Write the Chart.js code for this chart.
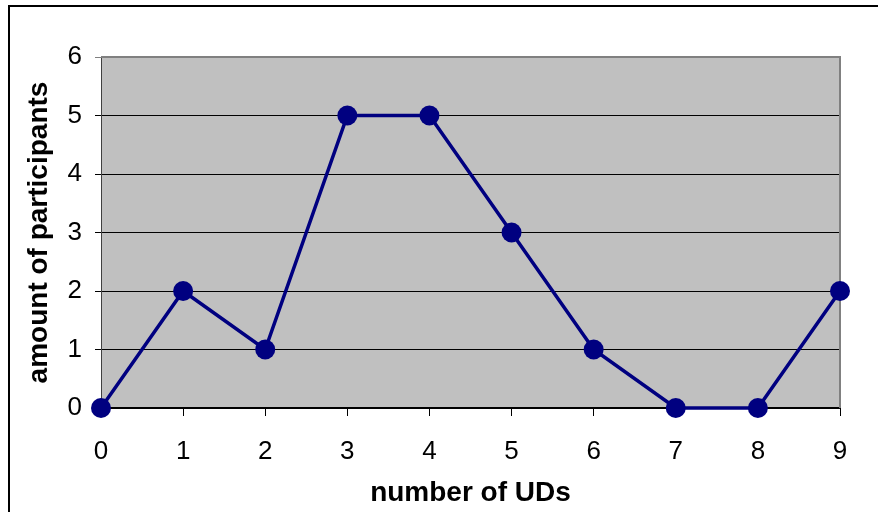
<!DOCTYPE html>
<html>
<head>
<meta charset="utf-8">
<script src="https://cdn.jsdelivr.net/npm/chart.js@4/dist/chart.umd.min.js"></script>
<style>
  html, body { margin: 0; padding: 0; background: #fff; }
  #wrap { width: 878px; height: 512px; position: relative; }
</style>
</head>
<body>
<div id="wrap"><canvas id="chart" width="878" height="512"></canvas></div>
<script>
// dados
const udCounts = ['0', '1', '2', '3', '4', '5', '6', '7', '8', '9'];
const participants = [0, 2, 1, 5, 5, 3, 1, 0, 0, 2];
const yTicks = [0, 1, 2, 3, 4, 5, 6];

const font = 'Liberation Sans, Arial, sans-serif';

// fundo cinza da área do gráfico + moldura externa
const plotBackground = {
    id: 'plotBackground',
    beforeDraw(chart) {
        const { ctx, chartArea: a } = chart;
        ctx.save();
        ctx.fillStyle = '#c0c0c0';
        ctx.fillRect(a.left, a.top, a.right - a.left, a.bottom - a.top);
        // moldura da figura (esquerda e topo)
        ctx.strokeStyle = '#000';
        ctx.lineWidth = 2;
        ctx.beginPath();
        ctx.moveTo(9, 512);
        ctx.lineTo(9, 6);
        ctx.lineTo(878, 6);
        ctx.stroke();
        ctx.restore();
    },
    beforeDatasetsDraw(chart) {
        const { ctx, chartArea: a } = chart;
        ctx.save();
        ctx.strokeStyle = '#808080';
        ctx.lineWidth = 2;
        ctx.beginPath();
        ctx.moveTo(a.left, a.top);
        ctx.lineTo(a.right, a.top);
        ctx.lineTo(a.right, a.bottom);
        ctx.stroke();
        ctx.restore();
    }
};

new Chart(document.getElementById('chart'), {
    type: 'line',
    data: {
        labels: udCounts,
        datasets: [{
            data: participants,
            borderColor: '#000080',
            backgroundColor: '#000080',
            borderWidth: 3.5,
            pointRadius: 10,
            pointHoverRadius: 10,
            pointBorderWidth: 0,
            tension: 0,
            clip: false
        }]
    },
    options: {
        responsive: false,
        animation: false,
        events: [],
        layout: { padding: { left: 0, top: 57, right: 38, bottom: 0 } },
        plugins: {
            legend: { display: false },
            tooltip: { enabled: false }
        },
        scales: {
            x: {
                offset: false,
                afterFit: (scale) => { scale.height = 104; },
                grid: {
                    drawOnChartArea: false,
                    drawTicks: true,
                    tickLength: 8,
                    color: '#000'
                },
                border: { color: '#000', width: 2 },
                ticks: {
                    color: '#000',
                    padding: 20,
                    maxRotation: 0,
                    font: { family: font, size: 26 }
                },
                title: {
                    display: true,
                    text: 'number of UDs',
                    color: '#000',
                    padding: { top: 2, bottom: 2 },
                    font: { family: font, size: 28, weight: 'bold' }
                }
            },
            y: {
                min: 0,
                max: 6,
                afterFit: (scale) => { scale.width = 101; },
                afterBuildTicks: (scale) => { scale.ticks = yTicks.map(v => ({ value: v })); },
                grid: {
                    color: (c) => c.tick && c.tick.value === 6 ? '#808080' : '#000',
                    lineWidth: 1,
                    tickLength: 6
                },
                border: { color: '#404040', width: 1 },
                ticks: {
                    color: '#000',
                    padding: 13,
                    font: { family: font, size: 26 }
                },
                title: {
                    display: true,
                    text: 'amount of participants',
                    color: '#000',
                    padding: { top: 22, bottom: 4 },
                    font: { family: font, size: 28, weight: 'bold' }
                }
            }
        }
    },
    plugins: [plotBackground]
});
</script>
</body>
</html>
